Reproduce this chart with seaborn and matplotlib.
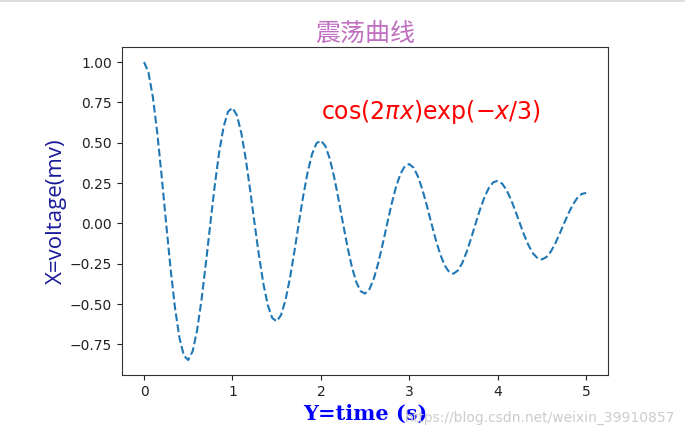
import matplotlib
matplotlib.use("Agg")
import matplotlib.pyplot as plt
import seaborn as sns
import pandas as pd
from matplotlib.patches import Rectangle

# time values (s)
x_time = [i * 0.05 for i in range(101)]
# voltage values
y_voltage = [
    1.0, 0.93534, 0.78249, 0.55912, 0.28909, 0.0, -0.27961, -0.52306, -0.70803, -0.81858,
    -0.84648, -0.79175, -0.66237, -0.47328, -0.24471, 0.0, 0.23668, 0.44276, 0.59933, 0.69292,
    0.71653, 0.67020, 0.56067, 0.40063, 0.20714, 0.0, -0.20035, -0.37479, -0.50733, -0.58654,
    -0.60653, -0.56731, -0.47461, -0.33912, -0.17534, 0.0, 0.16959, 0.31725, 0.42944, 0.49650,
    0.51342, 0.48022, 0.40174, 0.28706, 0.14842, 0.0, -0.14356, -0.26855, -0.36351, -0.42027,
    -0.43460, -0.40650, -0.34007, -0.24299, -0.12564, 0.0, 0.12152, 0.22732, 0.30771, 0.35576,
    0.36788, 0.34409, 0.28786, 0.20569, 0.10635, 0.0, -0.10286, -0.19242, -0.26047, -0.30114,
    -0.31140, -0.29127, -0.24367, -0.17411, -0.09002, 0.0, 0.08707, 0.16288, 0.22048, 0.25491,
    0.26360, 0.24655, 0.20626, 0.14738, 0.07620, 0.0, -0.07370, -0.13788, -0.18663, -0.21578,
    -0.22313, -0.20870, -0.17460, -0.12475, -0.06450, 0.0, 0.06239, 0.11671, 0.15798, 0.18265,
    0.18888,
]
title_text = "震荡曲线"
xlabel_text = "Y=time (s)"
ylabel_text = "X=voltage(mv)"
formula_text = r"$\cos(2\pi x)\exp(-x/3)$"
watermark_text = "https://blog.csdn.net/weixin_39910857"

sns.set_style("ticks")
plt.rcParams['font.family'] = ['DejaVu Sans', 'Noto Sans CJK SC']
plt.rcParams['mathtext.fontset'] = 'dejavusans'

fig = plt.figure(figsize=(6.85, 4.37), dpi=100)
ax = fig.add_axes([0.178, 0.142, 0.710, 0.750])

df = pd.DataFrame({"t": x_time, "v": y_voltage})
sns.lineplot(data=df, x="t", y="v", ax=ax, color="#1f77b4", linestyle="--", linewidth=1.5)

ax.set_xlim(-0.25, 5.25)
ax.set_ylim(-0.939, 1.092)
ax.set_xticks([0, 1, 2, 3, 4, 5])
ax.set_yticks([-0.75, -0.5, -0.25, 0.0, 0.25, 0.5, 0.75, 1.0])
ax.set_yticklabels(["\u22120.75", "\u22120.50", "\u22120.25", "0.00", "0.25", "0.50", "0.75", "1.00"])
ax.tick_params(labelsize=10, colors="#222222", length=3.5, width=0.8)
for s in ax.spines.values():
    s.set_color("#333333")
    s.set_linewidth(0.8)

ax.set_title(title_text, color="#c070c0", fontsize=18,
             family=['Noto Sans CJK SC', 'DejaVu Sans'], pad=3)
ax.set_xlabel(xlabel_text, color="blue", fontsize=15, fontweight="bold",
              family=['DejaVu Serif'], labelpad=4)
ax.set_ylabel(ylabel_text, color="#1a1a9a", fontsize=16, family=['Open Sans', 'DejaVu Sans'],
              labelpad=2)
ax.text(2.0, 0.65, formula_text, color="red", fontsize=17)

fig.text(0.986, 0.043, watermark_text, color="#cccccc", fontsize=10, ha="right", va="center")
fig.add_artist(Rectangle((0, 0.995), 1, 0.005, transform=fig.transFigure,
                         color="#dddddd", lw=0))

fig.savefig("out.png", dpi=100)
